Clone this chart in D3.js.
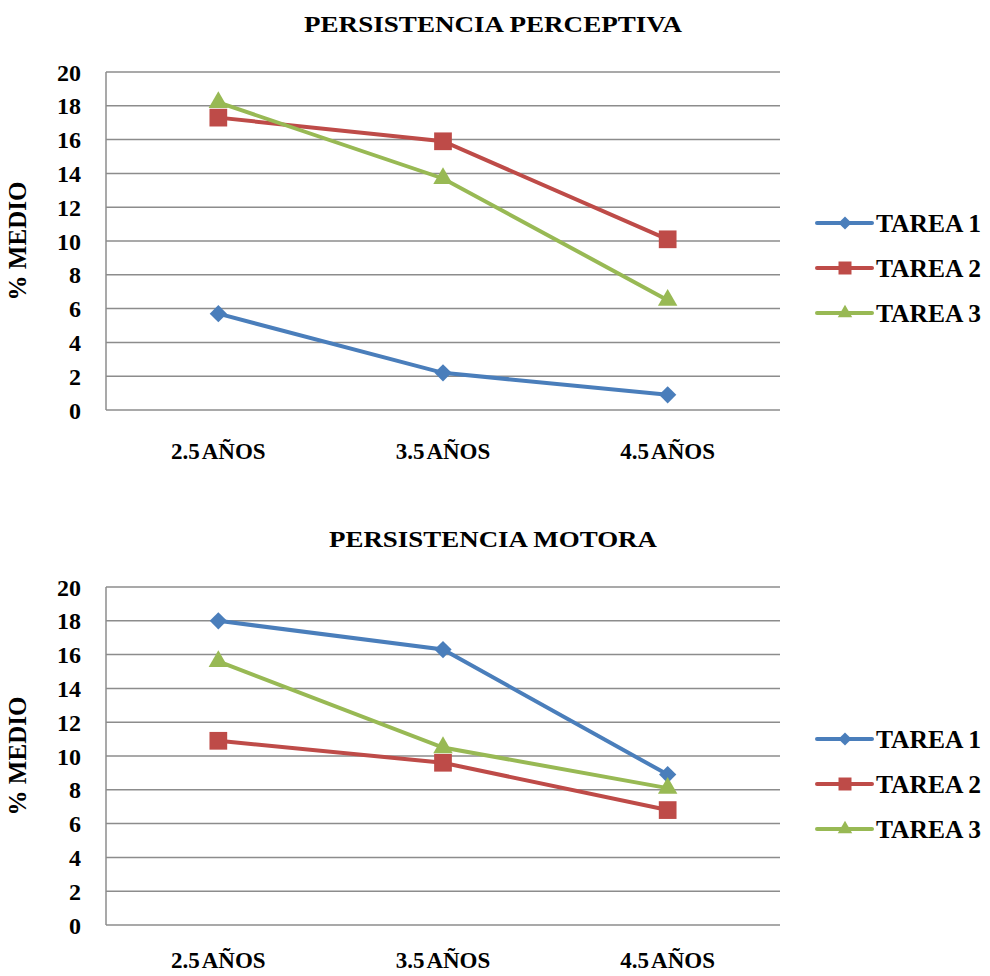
<!DOCTYPE html>
<html>
<head>
<meta charset="utf-8">
<script src="https://cdn.jsdelivr.net/npm/d3@7"></script>
<style>
  body { margin: 0; background: #fff; }
  svg { display: block; }
  text { font-weight: bold; fill: #000; }
</style>
</head>
<body>
<svg width="990" height="976"></svg>
<script>
const categories = ['2.5 AÑOS', '3.5 AÑOS', '4.5 AÑOS'];
const seriesNames = ['TAREA 1', 'TAREA 2', 'TAREA 3'];
const yTicks = [0, 2, 4, 6, 8, 10, 12, 14, 16, 18, 20];

// persistencia perceptiva
const perceptivaT1 = [5.7, 2.2, 0.9];
const perceptivaT2 = [17.3, 15.9, 10.1];
const perceptivaT3 = [18.2, 13.7, 6.5];

// persistencia motora
const motoraT1 = [18.0, 16.3, 8.9];
const motoraT2 = [10.9, 9.6, 6.8];
const motoraT3 = [15.6, 10.5, 8.1];

const colors = ['#4a7ebb', '#be4b48', '#98b954'];
const symbols = [d3.symbolDiamond2, d3.symbolSquare2, d3.symbolTriangle2];
const symSize = [190, 400, 270];
const legSize = [110, 215, 150];
const FONT = '"Liberation Serif"';

const svg = d3.select('svg');

function drawChart({ top, title, titleWidth, series, legendY, labelDy }) {
  const left = 106, right = 780;
  const plotTop = top, plotBottom = top + 338;

  const g = svg.append('g');

  const x = d3.scaleBand().domain(categories).range([left, right]);
  const y = d3.scaleLinear().domain([0, 20]).range([plotBottom, plotTop]);

  g.append('text')
    .attr('x', 493 - titleWidth / 2).attr('y', top - 40)
    .attr('textLength', titleWidth)
    .attr('lengthAdjust', 'spacingAndGlyphs')
    .style('font-family', FONT)
    .style('font-size', '24px')
    .text(title);

  // gridlines
  g.append('g')
    .selectAll('line')
    .data(yTicks)
    .enter().append('line')
      .attr('x1', left).attr('x2', right)
      .attr('y1', d => y(d)).attr('y2', d => y(d))
      .attr('stroke', '#8c8c8c')
      .attr('stroke-width', 1.5);

  g.append('line')
    .attr('x1', left).attr('x2', left)
    .attr('y1', plotTop).attr('y2', plotBottom)
    .attr('stroke', '#8c8c8c')
    .attr('stroke-width', 1.5);

  // y axis labels
  const yAxis = g.append('g')
    .attr('transform', `translate(${left},0)`)
    .call(d3.axisLeft(y).tickValues(yTicks).tickSize(0).tickPadding(25))
    .attr('font-family', 'Liberation Serif')
    .attr('font-size', 24);
  yAxis.select('.domain').remove();
  yAxis.selectAll('text')
    .attr('dy', '0.34em')
    .style('font-family', FONT)
    .style('font-size', '24px')
    .style('font-weight', 'bold')
    .attr('fill', '#000');

  g.append('text')
    .attr('transform', `translate(26,${(plotTop + plotBottom) / 2}) rotate(-90)`)
    .attr('text-anchor', 'middle')
    .style('font-family', FONT)
    .style('font-size', '25px')
    .text('% MEDIO');

  // x labels
  g.append('g')
    .selectAll('text')
    .data(categories)
    .enter().append('text')
      .attr('x', d => x(d) + x.bandwidth() / 2)
      .attr('y', plotBottom + labelDy)
      .attr('text-anchor', 'middle')
      .style('font-family', FONT)
      .style('font-size', '23px')
      .style('word-spacing', '-2.5px')
      .text(d => d);

  const line = d3.line()
    .x((d, i) => x(categories[i]) + x.bandwidth() / 2)
    .y(d => y(d));

  series.forEach((vals, s) => {
    g.append('path')
      .datum(vals)
      .attr('d', line)
      .attr('fill', 'none')
      .attr('stroke', colors[s])
      .attr('stroke-width', 4);

    g.append('g')
      .selectAll('path')
      .data(vals)
      .enter().append('path')
        .attr('d', d3.symbol().type(symbols[s]).size(symSize[s]))
        .attr('transform', (d, i) => `translate(${x(categories[i]) + x.bandwidth() / 2},${y(d)})`)
        .attr('fill', colors[s]);
  });

  // legend
  const leg = g.append('g')
    .selectAll('g')
    .data(seriesNames)
    .enter().append('g')
      .attr('transform', (d, i) => `translate(817,${legendY + i * 45})`);
  leg.append('line')
    .attr('x1', 0).attr('x2', 55)
    .attr('stroke', (d, i) => colors[i])
    .attr('stroke-width', 4)
    .attr('stroke-linecap', 'round');
  leg.append('path')
    .attr('d', (d, i) => d3.symbol().type(symbols[i]).size(legSize[i])())
    .attr('transform', 'translate(28,0)')
    .attr('fill', (d, i) => colors[i]);
  leg.append('text')
    .attr('x', 59).attr('y', 8.5)
    .style('font-family', FONT)
    .style('font-size', '25.5px')
    .text(d => d);
}

drawChart({
  top: 72,
  title: 'PERSISTENCIA PERCEPTIVA',
  titleWidth: 378,
  series: [perceptivaT1, perceptivaT2, perceptivaT3],
  legendY: 223,
  labelDy: 49
});

drawChart({
  top: 587,
  title: 'PERSISTENCIA MOTORA',
  titleWidth: 328,
  series: [motoraT1, motoraT2, motoraT3],
  legendY: 739,
  labelDy: 43
});
</script>
</body>
</html>
